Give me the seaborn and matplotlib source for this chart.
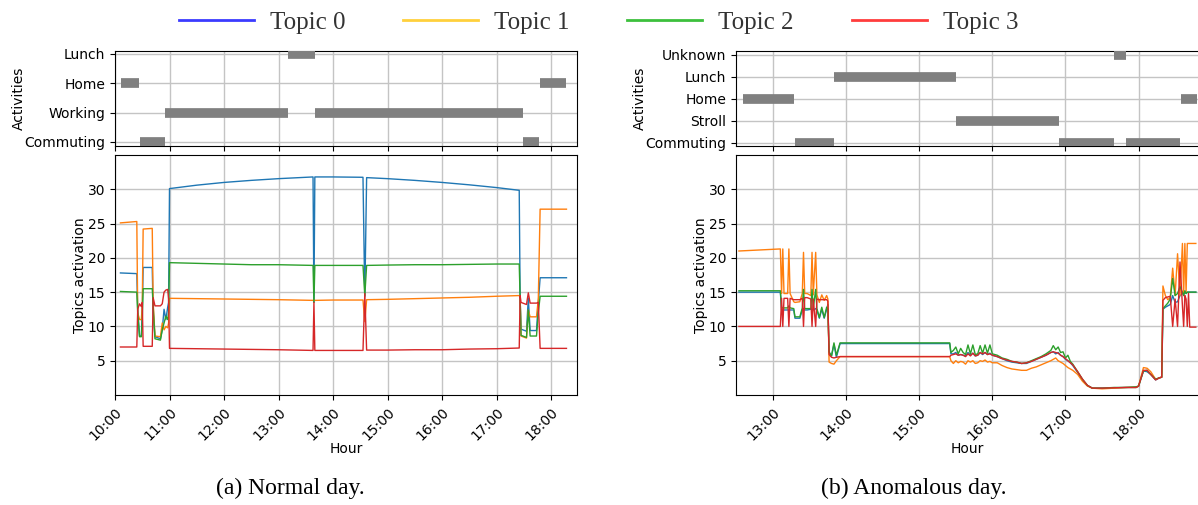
import numpy as np
import pandas as pd
import matplotlib
matplotlib.use("Agg")
import matplotlib.pyplot as plt
from matplotlib.lines import Line2D
from matplotlib.ticker import MultipleLocator, FuncFormatter
import seaborn as sns

# ---- data: normal day ----
normal_times = ["10:06", "10:24", "10:25", "10:27", "10:29", "10:30", "10:31", "10:41",
                "10:42", "10:44", "10:50", "10:52", "10:54", "10:56", "10:58", "10:59",
                "11:00", "11:30", "12:00", "12:30", "13:00", "13:38", "13:39", "13:40",
                "14:00", "14:33", "14:35", "14:37", "15:00", "15:30", "16:00", "16:30",
                "17:00", "17:25", "17:26", "17:27", "17:33", "17:35", "17:37", "17:44",
                "17:46", "17:48", "18:17"]
normal_topic0 = [17.8, 17.7, 12.5, 8.6, 8.6, 12.0, 18.6, 18.6,
                 12.0, 8.5, 8.2, 9.5, 12.5, 11.0, 12.8, 13.5,
                 30.1, 30.6, 31.0, 31.3, 31.55, 31.8, 13.5, 31.8,
                 31.8, 31.75, 14.3, 31.7, 31.55, 31.3, 31.0, 30.65,
                 30.25, 29.85, 14.0, 9.6, 9.3, 14.1, 9.4, 9.4,
                 13.5, 17.1, 17.1]
normal_topic1 = [25.1, 25.3, 12.0, 11.0, 11.0, 13.0, 24.2, 24.3,
                 13.5, 8.6, 8.5, 10.5, 9.5, 10.0, 9.8, 10.5,
                 14.1, 14.05, 14.0, 13.95, 13.9, 13.8, 13.9, 13.8,
                 13.85, 13.85, 10.7, 13.9, 13.95, 14.05, 14.15, 14.25,
                 14.4, 14.5, 14.3, 8.6, 8.3, 12.4, 11.4, 11.4,
                 14.0, 27.1, 27.1]
normal_topic2 = [15.1, 15.0, 12.0, 8.5, 8.5, 11.0, 15.5, 15.5,
                 13.0, 8.2, 8.0, 9.5, 10.5, 11.5, 11.0, 12.0,
                 19.3, 19.2, 19.1, 19.0, 19.0, 18.9, 13.5, 18.9,
                 18.9, 18.9, 14.5, 18.9, 18.95, 19.0, 19.0, 19.05,
                 19.1, 19.1, 14.0, 8.7, 8.4, 12.4, 8.6, 8.6,
                 12.0, 14.4, 14.4]
normal_topic3 = [7.0, 7.0, 12.5, 13.3, 12.9, 13.5, 7.1, 7.1,
                 14.2, 13.0, 13.0, 13.3, 15.0, 15.3, 15.4, 14.0,
                 6.8, 6.75, 6.7, 6.65, 6.6, 6.5, 13.5, 6.5,
                 6.5, 6.5, 14.8, 6.55, 6.55, 6.6, 6.6, 6.7,
                 6.75, 6.85, 14.5, 13.5, 13.2, 14.9, 13.4, 13.4,
                 13.5, 6.8, 6.8]

normal_act_levels = ["Commuting", "Working", "Home", "Lunch"]
normal_acts = ["Home", "Commuting", "Working", "Lunch", "Working", "Commuting", "Home"]
normal_act_start = ["10:07", "10:27", "10:55", "13:10", "13:40", "17:29", "17:48"]
normal_act_end = ["10:26", "10:55", "13:10", "13:40", "17:29", "17:47", "18:17"]

# ---- data: anomalous day ----
anom_times = ["12:32", "13:06", "13:07", "13:08", "13:09", "13:12", "13:13", "13:14",
              "13:17", "13:18", "13:22", "13:24", "13:25", "13:26", "13:28", "13:31",
              "13:32", "13:33", "13:35", "13:36", "13:38", "13:40", "13:42", "13:44",
              "13:45", "13:46", "13:48", "13:50", "13:52", "13:55", "13:57", "15:25",
              "15:26", "15:28", "15:30", "15:32", "15:34", "15:36", "15:38", "15:40",
              "15:42", "15:44", "15:46", "15:48", "15:50", "15:52", "15:54", "15:56",
              "15:58", "16:00", "16:04", "16:08", "16:12", "16:16", "16:20", "16:24",
              "16:28", "16:32", "16:36", "16:40", "16:44", "16:48", "16:50", "16:52",
              "16:54", "16:56", "16:58", "17:00", "17:02", "17:04", "17:06", "17:10",
              "17:14", "17:18", "17:22", "17:30", "17:40", "17:50", "17:58", "18:00",
              "18:04", "18:07", "18:10", "18:14", "18:17", "18:19", "18:20", "18:22",
              "18:24", "18:26", "18:28", "18:30", "18:32", "18:34", "18:36", "18:37",
              "18:38", "18:39", "18:40", "18:41", "18:42", "18:47"]
anom_topic0 = [15.0, 15.0, 12.4, 12.4, 12.4, 12.4, 12.4, 12.4,
               12.4, 11.2, 11.2, 12.4, 12.6, 12.4, 12.4, 12.5,
               12.5, 12.4, 12.6, 12.4, 11.2, 12.5, 11.2, 12.5,
               13.2, 6.1, 5.7, 7.4, 5.5, 7.5, 7.5, 7.5,
               6.0, 6.0, 6.2, 5.8, 5.9, 5.8, 5.7, 6.2,
               5.8, 6.1, 5.7, 5.8, 6.2, 5.9, 6.2, 5.9,
               6.1, 5.8, 5.6, 5.3, 5.0, 4.8, 4.7, 4.6,
               4.6, 4.9, 5.2, 5.5, 5.8, 6.2, 6.3, 6.0,
               6.2, 5.8, 5.6, 5.2, 5.0, 4.7, 4.3, 3.3,
               2.2, 1.4, 1.0, 1.0, 1.05, 1.1, 1.1, 1.3,
               3.5, 3.4, 3.0, 2.2, 2.5, 2.6, 12.5, 12.8,
               13.0, 13.2, 14.5, 13.5, 13.6, 14.5, 14.8, 14.7,
               15.0, 14.8, 15.0, 15.0, 15.0, 15.0]
anom_topic1 = [21.0, 21.3, 14.8, 21.3, 14.8, 14.8, 21.3, 14.8,
               13.6, 13.5, 13.6, 14.8, 20.8, 14.8, 14.8, 14.5,
               20.8, 14.6, 20.8, 14.6, 13.5, 14.6, 13.8, 14.5,
               14.0, 4.8, 4.6, 4.5, 5.0, 5.6, 5.6, 5.6,
               5.0, 4.6, 5.0, 4.7, 4.9, 4.8, 4.5, 5.0,
               4.8, 5.0, 4.6, 4.7, 5.0, 4.9, 5.1, 4.8,
               4.9, 4.7, 4.7, 4.3, 4.0, 3.8, 3.7, 3.6,
               3.6, 3.9, 4.1, 4.4, 4.7, 5.0, 5.2, 5.4,
               5.0, 4.8, 4.6, 4.3, 4.0, 3.8, 3.6, 3.0,
               2.0, 1.3, 1.0, 0.9, 1.0, 1.1, 1.1, 1.3,
               4.0, 3.9, 3.4, 2.3, 2.5, 2.6, 15.9, 14.5,
               13.9, 14.2, 18.5, 14.5, 20.6, 14.5, 22.1, 14.5,
               22.1, 15.0, 22.1, 22.1, 22.1, 22.1]
anom_topic2 = [15.2, 15.2, 12.7, 12.7, 12.7, 12.7, 13.0, 12.7,
               12.6, 11.4, 11.4, 12.7, 15.4, 12.6, 12.6, 12.6,
               15.4, 12.6, 15.4, 12.6, 11.3, 12.8, 11.3, 12.8,
               12.5, 6.3, 5.7, 7.6, 5.8, 7.6, 7.6, 7.6,
               6.2, 6.5, 7.0, 6.0, 6.8, 6.2, 5.9, 7.3,
               6.0, 7.3, 5.9, 6.0, 7.2, 6.1, 7.3, 6.1,
               7.3, 6.0, 5.8, 5.4, 5.2, 4.9, 4.8, 4.6,
               4.7, 5.0, 5.3, 5.6, 6.0, 6.5, 7.2, 6.6,
               7.0, 6.2, 6.3, 5.4, 5.8, 4.9, 4.5, 3.4,
               2.3, 1.4, 1.0, 1.0, 1.1, 1.1, 1.2, 1.3,
               3.5, 3.6, 3.0, 2.3, 2.5, 2.6, 12.6, 13.0,
               13.4, 14.0, 17.0, 14.5, 14.8, 15.8, 15.0, 14.5,
               15.2, 14.8, 15.0, 15.0, 15.0, 15.0]
anom_topic3 = [10.0, 10.0, 14.1, 10.0, 14.1, 14.1, 10.0, 14.1,
               13.9, 13.9, 13.9, 14.1, 10.0, 14.2, 14.2, 14.0,
               10.0, 14.0, 10.0, 14.0, 13.9, 13.9, 13.9, 13.9,
               13.7, 5.9, 5.5, 5.4, 5.5, 5.6, 5.6, 5.6,
               5.8, 5.9, 6.0, 5.8, 5.9, 5.8, 5.6, 6.0,
               5.7, 6.1, 5.7, 5.8, 6.2, 6.0, 6.2, 5.9,
               6.0, 5.8, 5.6, 5.3, 5.1, 4.9, 4.8, 4.6,
               4.7, 4.9, 5.2, 5.5, 5.8, 6.2, 6.3, 6.2,
               6.1, 5.8, 5.6, 5.3, 5.0, 4.7, 4.4, 3.4,
               2.3, 1.4, 1.0, 1.0, 1.05, 1.1, 1.1, 1.3,
               3.6, 3.6, 3.0, 2.2, 2.5, 2.6, 13.8, 14.2,
               14.3, 14.4, 10.0, 14.0, 10.0, 19.4, 13.0, 10.0,
               14.5, 14.0, 10.0, 14.8, 9.9, 9.9]

anom_act_levels = ["Commuting", "Stroll", "Home", "Lunch", "Unknown"]
anom_acts = ["Home", "Commuting", "Lunch", "Stroll", "Commuting", "Unknown", "Commuting", "Home"]
anom_act_start = ["12:35", "13:18", "13:50", "15:30", "16:55", "17:40", "17:50", "18:35"]
anom_act_end = ["13:17", "13:50", "15:30", "16:55", "17:40", "17:50", "18:34", "18:48"]

topic_names = ["Topic 0", "Topic 1", "Topic 2", "Topic 3"]
legend_colors = ["#3b3bff", "#ffd03c", "#3cc03c", "#ff3c3c"]


def to_hours(t):
    h, m = t.split(":")
    return int(h) + int(m) / 60.0


def hour_fmt(v, pos):
    return f"{int(round(v)):02d}:00"


plt.rcParams["font.family"] = ["DejaVu Sans"]
plt.rcParams["font.size"] = 10
palette = sns.color_palette("tab10", 4)

fig = plt.figure(figsize=(11.98, 5.05), dpi=100)
W, H = 1198.0, 505.0


def add_ax(x0, y0, x1, y1):
    return fig.add_axes([x0 / W, 1 - y1 / H, (x1 - x0) / W, (y1 - y0) / H])


def draw_panel(x0, x1, xlim, times, series, levels, acts, starts, ends, act_ylim, first_tick):
    ax_act = add_ax(x0, 50.7, x1, 146)
    ax = add_ax(x0, 155, x1, 395)
    width = float(x1 - x0)

    # activities timeline
    ys = [levels.index(a) for a in acts]
    ax_act.hlines(ys, [to_hours(s) for s in starts], [to_hours(e) for e in ends],
                  colors="gray", lw=7, capstyle="butt", zorder=3)
    ax_act.set_yticks(range(len(levels)))
    ax_act.set_yticklabels(levels)
    ax_act.set_ylim(*act_ylim)
    ax_act.set_ylabel("Activities")
    ax_act.yaxis.set_label_coords(-89 / width, 0.5)
    ax_act.set_xlim(*xlim)
    ax_act.xaxis.set_major_locator(MultipleLocator(1))
    ax_act.tick_params(axis="x", labelbottom=False)
    ax_act.grid(True, color="#c4c4c4", lw=1.0)
    ax_act.set_axisbelow(True)

    # topic activations
    df = pd.DataFrame({"hour": [to_hours(t) for t in times]})
    for name, vals in zip(topic_names, series):
        df[name] = vals
    long = df.melt(id_vars="hour", var_name="Topic", value_name="activation")
    sns.lineplot(data=long, x="hour", y="activation", hue="Topic", palette=palette,
                 estimator=None, lw=1.0, legend=False, ax=ax)
    ax.set_xlim(*xlim)
    ax.set_ylim(0, 35)
    ax.set_yticks([5, 10, 15, 20, 25, 30])
    ax.xaxis.set_major_locator(MultipleLocator(1))
    ax.xaxis.set_major_formatter(FuncFormatter(hour_fmt))
    ax.set_xticks(np.arange(first_tick, 19))
    for lab in ax.get_xticklabels():
        lab.set_rotation(45)
        lab.set_ha("right")
        lab.set_rotation_mode("anchor")
    ax.grid(True, color="#c4c4c4", lw=1.0)
    ax.set_axisbelow(True)
    ax.set_xlabel("Hour")
    ax.set_ylabel("Topics activation")
    ax.xaxis.set_label_coords(0.5, -47 / 240.0)
    ax.yaxis.set_label_coords(-28 / width, 0.5)
    return ax_act, ax


draw_panel(115, 577, (10.0, to_hours("18:28") + 0.01), normal_times,
           [normal_topic0, normal_topic1, normal_topic2, normal_topic3],
           normal_act_levels, normal_acts, normal_act_start, normal_act_end,
           (-0.14, 3.11), 10)
draw_panel(736, 1199, (to_hours("12:29") + 0.01, to_hours("18:49") + 0.01), anom_times,
           [anom_topic0, anom_topic1, anom_topic2, anom_topic3],
           anom_act_levels, anom_acts, anom_act_start, anom_act_end,
           (-0.14, 4.18), 13)

# shared legend on top
handles = [Line2D([], [], color=c, lw=2) for c in legend_colors]
fig.legend(handles, topic_names, loc="center", bbox_to_anchor=(598.5 / W, 1 - 22.7 / H),
           ncol=4, frameon=False, handlelength=3.0, handletextpad=0.65, columnspacing=2.3,
           prop={"family": ["Liberation Serif", "DejaVu Serif"], "size": 18},
           labelcolor="#333333")

# sub captions
fig.text(290 / W, 1 - 488 / H, "(a) Normal day.", ha="center", va="center",
         family=["Liberation Serif", "DejaVu Serif"], fontsize=17)
fig.text(914 / W, 1 - 488 / H, "(b) Anomalous day.", ha="center", va="center",
         family=["Liberation Serif", "DejaVu Serif"], fontsize=17)

fig.savefig("out.png", dpi=100)
